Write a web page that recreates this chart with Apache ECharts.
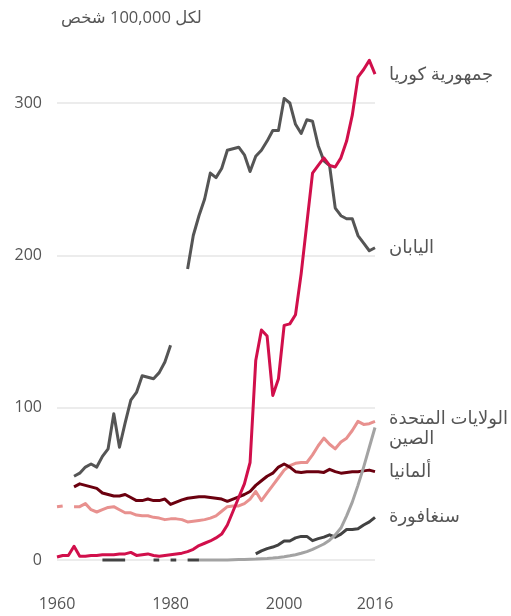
<!DOCTYPE html>
<html>
<head>
<meta charset="utf-8">
<script src="https://cdn.jsdelivr.net/npm/echarts@6/dist/echarts.min.js"></script>
<style>
  html, body { margin: 0; padding: 0; background: #ffffff; }
  #chart { width: 511px; height: 616px; }
</style>
</head>
<body>
<div id="chart"></div>
<script>
const FONT = "'Open Sans', 'DejaVu Sans', sans-serif";
const TEXT = '#555555';

// Years 1960–2016
const years = [];
for (let y = 1960; y <= 2016; y++) years.push(y);

// Rate per 100,000 people, one value per year (null = no data)
const korea = [2, 3, 3, 9, 2.5, 2.5, 3, 3, 3.5, 3.5,
  3.5, 4, 4, 5, 3, 3.5, 4, 3, 2.5, 3,
  3.5, 4, 4.5, 5.5, 7, 9.5, 11, 12.5, 14.5, 17,
  23, 32, 41, 50, 64, 131, 151, 147, 108, 119,
  154, 155, 161, 188, 221, 254, 259, 264, 259, 258,
  264, 275, 292, 317, 322, 328, 319];

const japan = [null, null, null, 55, 57, 61, 63, 61, 68, 73,
  96, 74, 90, 105, 110, 121, 120, 119, 123, 130,
  141, null, null, 191, 213, 226, 237, 254, 251, 257,
  269, 270, 271, 266, 255, 265, 269, 275, 282, 282,
  303, 300, 286, 280, 289, 288, 272, 262, 259, 231,
  226, 224, 224, 213, 208, 203, 205];

const usa = [35, 35.5, null, 35, 35, 37, 33, 31.5, 33, 34.5,
  35, 33, 31, 31, 29.5, 29, 29, 28, 27.5, 26.5,
  27, 27, 26.5, 25, 25.5, 26, 26.5, 27.5, 29, 32,
  35, 35.5, 35.5, 37, 40, 45, 39, 44, 49, 54,
  59, 62, 63.5, 64, 64, 69, 75, 80, 76, 73,
  77.5, 80, 85, 91, 89, 89.5, 91];

const germany = [null, null, null, 48, 50, 49, 48, 47, 44, 43,
  42, 42, 43, 41, 39, 39, 40, 39, 39, 40,
  36.5, 38, 39.5, 40.5, 41, 41.5, 41.5, 41, 40.5, 40,
  38.5, 40, 41.5, 43, 45, 49, 52, 55, 57, 61,
  63, 61, 58, 57.5, 58, 58, 58, 57.5, 59.5, 58,
  57, 57.5, 58, 58, 58.5, 59, 58];

const china = [null, null, null, null, null, null, null, null, null, null,
  null, null, null, null, null, null, null, null, null, null,
  null, null, null, null, null, 0, 0, 0, 0, 0,
  0, 0.2, 0.3, 0.4, 0.5, 0.6, 0.8, 1, 1.3, 1.7,
  2.2, 2.8, 3.5, 4.4, 5.5, 7, 8.7, 10.5, 13, 16.5,
  21, 29, 38, 49, 61, 74, 87];

const singapore = [null, null, null, null, null, null, null, null, 0, 0,
  0, 0, 0, null, null, null, null, 0, 0, null,
  0, 0, null, 0, 0, 0, null, null, null, null,
  null, null, null, null, null, 4, 6, 7.5, 8.5, 10,
  12.5, 12.5, 14.5, 15.5, 15.5, 12.7, 14, 15, 16.5, 15,
  17, 20, 20, 20.5, 23, 25, 28];

const xTicks = [1960, 1980, 2000, 2016];
const yTicks = [0, 100, 200, 300];
const unitLabel = 'لكل 100,000 شخص';

function pairs(values) {
  return years.map((y, i) => [y, values[i]]);
}

function lineSeries(name, values, color, labelDy) {
  return {
    name: name,
    type: 'line',
    data: pairs(values),
    showSymbol: false,
    connectNulls: false,
    clip: false,
    silent: true,
    lineStyle: { color: color, width: 3, join: 'round', cap: 'butt' },
    itemStyle: { color: color },
    emphasis: { disabled: true },
    endLabel: {
      show: true,
      formatter: name,
      color: TEXT,
      fontFamily: FONT,
      fontSize: 18,
      distance: 14,
      offset: [0, labelDy]
    }
  };
}

const chart = echarts.init(document.getElementById('chart'), null, { renderer: 'canvas' });

chart.setOption({
  animation: false,
  backgroundColor: '#ffffff',
  textStyle: { fontFamily: FONT },
  title: {
    text: unitLabel,
    left: 56,
    top: 5,
    textStyle: { color: TEXT, fontFamily: FONT, fontSize: 16.5, fontWeight: 'normal' }
  },
  grid: { left: 57, right: 136, top: 103, bottom: 56, containLabel: false },
  xAxis: {
    type: 'value',
    min: xTicks[0],
    max: xTicks[xTicks.length - 1],
    interval: 20,
    axisLine: { show: false },
    axisTick: { show: false },
    splitLine: { show: false },
    axisLabel: {
      customValues: xTicks,
      color: TEXT,
      fontFamily: FONT,
      fontSize: 16,
      margin: 36,
      formatter: v => String(v)
    }
  },
  yAxis: {
    type: 'value',
    min: yTicks[0],
    max: yTicks[yTicks.length - 1],
    interval: 100,
    axisLine: { show: false },
    axisTick: { show: false },
    splitLine: { lineStyle: { color: '#e6e6e6', width: 1.5 } },
    axisLabel: { color: TEXT, fontFamily: FONT, fontSize: 16, margin: 15 }
  },
  series: [
    lineSeries('الولايات المتحدة', usa, '#e8918f', -3),
    lineSeries('ألمانيا', germany, '#6b000f', 0),
    lineSeries('اليابان', japan, '#555555', 0),
    lineSeries('سنغافورة', singapore, '#424242', 0),
    lineSeries('الصين', china, '#a3a3a3', 11),
    lineSeries('جمهورية كوريا', korea, '#d10f4b', 1)
  ]
});
</script>
</body>
</html>
